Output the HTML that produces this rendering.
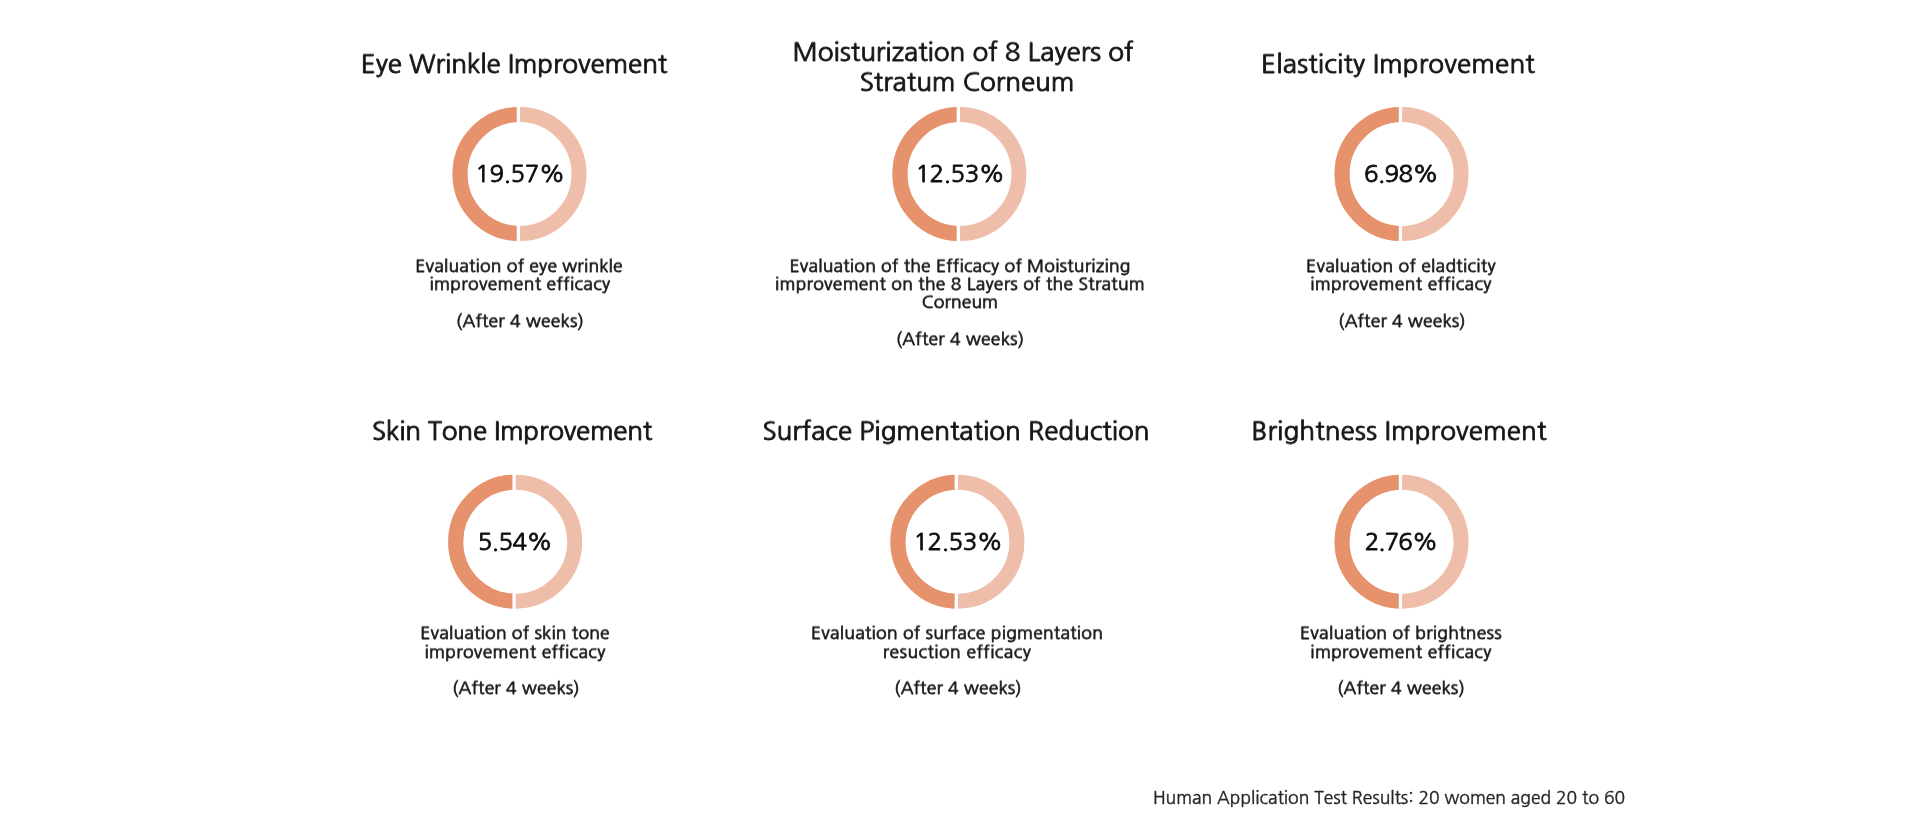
<!DOCTYPE html>
<html lang="en"><head><meta charset="utf-8"><title>Human Application Test Results</title>
<style>
html,body{margin:0;padding:0;background:#fff;}
body{width:1920px;height:826px;overflow:hidden;position:relative;font-family:NanumGothic, 'Liberation Sans', sans-serif;color:#1a1a1a;}
.t{position:absolute;width:1000px;text-align:center;white-space:nowrap;will-change:transform;}
.d{position:absolute;display:block;}
.u{position:relative;top:-0.043em;}
.title{font-size:26px;line-height:26px;color:#161616;-webkit-text-stroke:0.9px #161616;transform:scaleY(0.93);transform-origin:50% 21.94px;}
.pct{font-size:24px;line-height:24px;color:#0e0e0e;-webkit-text-stroke:0.85px #0e0e0e;}
.desc{font-size:17.5px;line-height:17.5px;color:#1a1a1a;-webkit-text-stroke:0.75px #1a1a1a;transform:scaleY(0.96);transform-origin:50% 14.77px;}
.foot{font-size:17.5px;line-height:17.5px;color:#262626;-webkit-text-stroke:0.4px #262626;}
</style></head>
<body>
<svg class="d" style="left:449px;top:104px" width="140" height="140" viewBox="0 0 140 140"><defs><clipPath id="c0"><rect x="0" y="0" width="69.40" height="140"/></clipPath></defs><circle cx="70.5" cy="70.0" r="59.5" fill="none" stroke="#EFBEAA" stroke-width="15.0"/><circle cx="70.5" cy="70.0" r="59.5" fill="none" stroke="#E6926C" stroke-width="15.0" clip-path="url(#c0)"/><rect x="67.75" y="0" width="3.3" height="140" fill="#fff"/></svg>
<svg class="d" style="left:889px;top:104px" width="140" height="140" viewBox="0 0 140 140"><defs><clipPath id="c1"><rect x="0" y="0" width="69.35" height="140"/></clipPath></defs><circle cx="70.45" cy="70.0" r="59.5" fill="none" stroke="#EFBEAA" stroke-width="15.0"/><circle cx="70.45" cy="70.0" r="59.5" fill="none" stroke="#E6926C" stroke-width="15.0" clip-path="url(#c1)"/><rect x="67.70" y="0" width="3.3" height="140" fill="#fff"/></svg>
<svg class="d" style="left:1331px;top:104px" width="140" height="140" viewBox="0 0 140 140"><defs><clipPath id="c2"><rect x="0" y="0" width="69.45" height="140"/></clipPath></defs><circle cx="70.55" cy="70.0" r="59.5" fill="none" stroke="#EFBEAA" stroke-width="15.0"/><circle cx="70.55" cy="70.0" r="59.5" fill="none" stroke="#E6926C" stroke-width="15.0" clip-path="url(#c2)"/><rect x="67.80" y="0" width="3.3" height="140" fill="#fff"/></svg>
<svg class="d" style="left:445px;top:471px" width="140" height="140" viewBox="0 0 140 140"><defs><clipPath id="c3"><rect x="0" y="0" width="69.10" height="140"/></clipPath></defs><circle cx="70.2" cy="70.65" r="59.5" fill="none" stroke="#EFBEAA" stroke-width="15.0"/><circle cx="70.2" cy="70.65" r="59.5" fill="none" stroke="#E6926C" stroke-width="15.0" clip-path="url(#c3)"/><rect x="67.45" y="0" width="3.3" height="140" fill="#fff"/></svg>
<svg class="d" style="left:887px;top:471px" width="140" height="140" viewBox="0 0 140 140"><defs><clipPath id="c4"><rect x="0" y="0" width="69.30" height="140"/></clipPath></defs><circle cx="70.4" cy="70.65" r="59.5" fill="none" stroke="#EFBEAA" stroke-width="15.0"/><circle cx="70.4" cy="70.65" r="59.5" fill="none" stroke="#E6926C" stroke-width="15.0" clip-path="url(#c4)"/><rect x="67.65" y="0" width="3.3" height="140" fill="#fff"/></svg>
<svg class="d" style="left:1331px;top:471px" width="140" height="140" viewBox="0 0 140 140"><defs><clipPath id="c5"><rect x="0" y="0" width="69.45" height="140"/></clipPath></defs><circle cx="70.55" cy="70.65" r="59.5" fill="none" stroke="#EFBEAA" stroke-width="15.0"/><circle cx="70.55" cy="70.65" r="59.5" fill="none" stroke="#E6926C" stroke-width="15.0" clip-path="url(#c5)"/><rect x="67.80" y="0" width="3.3" height="140" fill="#fff"/></svg>
<div class="t title" id="l0" style="left:14.35px;top:50.66px;letter-spacing:-0.099px">Eye Wr<span class="u">i</span>nkle <span class="u">I</span>mprovement</div>
<div class="t title" id="l1" style="left:462.83px;top:38.56px;letter-spacing:-0.042px">Mo<span class="u">i</span>stur<span class="u">i</span>zat<span class="u">i</span>on of 8 Layers of</div>
<div class="t title" id="l2" style="left:466.73px;top:68.76px;letter-spacing:-0.045px">Stratum Corneum</div>
<div class="t title" id="l3" style="left:898.39px;top:50.76px;letter-spacing:0.149px">Elast<span class="u">i</span>c<span class="u">i</span>ty <span class="u">I</span>mprovement</div>
<div class="t title" id="l4" style="left:11.99px;top:418.36px;letter-spacing:-0.220px">Sk<span class="u">i</span>n Tone <span class="u">I</span>mprovement</div>
<div class="t title" id="l5" style="left:456.45px;top:418.36px;letter-spacing:-0.010px">Surface P<span class="u">i</span>gmentat<span class="u">i</span>on Reduct<span class="u">i</span>on</div>
<div class="t title" id="l6" style="left:898.86px;top:418.36px;letter-spacing:0.118px">Br<span class="u">i</span>ghtness <span class="u">I</span>mprovement</div>
<div class="t pct" id="l7" style="left:19.92px;top:160.94px;letter-spacing:-0.360px">19.57%</div>
<div class="t pct" id="l8" style="left:459.65px;top:160.94px;letter-spacing:-0.400px">12.53%</div>
<div class="t pct" id="l9" style="left:901.15px;top:160.94px;letter-spacing:-0.600px">6.98%</div>
<div class="t pct" id="l10" style="left:15.33px;top:528.59px;letter-spacing:-0.550px">5.54%</div>
<div class="t pct" id="l11" style="left:457.98px;top:528.59px;letter-spacing:-0.440px">12.53%</div>
<div class="t pct" id="l12" style="left:901.35px;top:528.59px;letter-spacing:-0.900px">2.76%</div>
<div class="t desc" id="l13" style="left:19.36px;top:257.83px;letter-spacing:0.221px">Evaluat<span class="u">i</span>on of eye wr<span class="u">i</span>nkle</div>
<div class="t desc" id="l14" style="left:19.67px;top:276.03px;letter-spacing:0.347px"><span class="u">i</span>mprovement eff<span class="u">i</span>cacy</div>
<div class="t desc" id="l15" style="left:19.56px;top:312.53px;letter-spacing:0.229px">(After 4 weeks)</div>
<div class="t desc" id="l16" style="left:459.71px;top:257.83px;letter-spacing:0.229px">Evaluat<span class="u">i</span>on of the Eff<span class="u">i</span>cacy of Mo<span class="u">i</span>stur<span class="u">i</span>z<span class="u">i</span>ng</div>
<div class="t desc" id="l17" style="left:459.54px;top:276.03px;letter-spacing:0.283px"><span class="u">i</span>mprovement on the 8 Layers of the Stratum</div>
<div class="t desc" id="l18" style="left:459.97px;top:294.33px;letter-spacing:0.132px">Corneum</div>
<div class="t desc" id="l19" style="left:459.72px;top:330.93px;letter-spacing:0.245px">(After 4 weeks)</div>
<div class="t desc" id="l20" style="left:901.20px;top:257.83px;letter-spacing:0.296px">Evaluat<span class="u">i</span>on of eladt<span class="u">i</span>c<span class="u">i</span>ty</div>
<div class="t desc" id="l21" style="left:901.44px;top:276.03px;letter-spacing:0.380px"><span class="u">i</span>mprovement eff<span class="u">i</span>cacy</div>
<div class="t desc" id="l22" style="left:901.85px;top:312.53px;letter-spacing:0.198px">(After 4 weeks)</div>
<div class="t desc" id="l23" style="left:15.11px;top:625.48px;letter-spacing:0.227px">Evaluat<span class="u">i</span>on of sk<span class="u">i</span>n tone</div>
<div class="t desc" id="l24" style="left:15.08px;top:643.68px;letter-spacing:0.358px"><span class="u">i</span>mprovement eff<span class="u">i</span>cacy</div>
<div class="t desc" id="l25" style="left:15.80px;top:680.18px;letter-spacing:0.201px">(After 4 weeks)</div>
<div class="t desc" id="l26" style="left:457.28px;top:625.48px;letter-spacing:0.256px">Evaluat<span class="u">i</span>on of surface p<span class="u">i</span>gmentat<span class="u">i</span>on</div>
<div class="t desc" id="l27" style="left:456.74px;top:643.68px;letter-spacing:0.471px">resuct<span class="u">i</span>on eff<span class="u">i</span>cacy</div>
<div class="t desc" id="l28" style="left:457.85px;top:680.18px;letter-spacing:0.198px">(After 4 weeks)</div>
<div class="t desc" id="l29" style="left:901.45px;top:625.48px;letter-spacing:0.304px">Evaluat<span class="u">i</span>on of br<span class="u">i</span>ghtness</div>
<div class="t desc" id="l30" style="left:901.13px;top:643.68px;letter-spacing:0.367px"><span class="u">i</span>mprovement eff<span class="u">i</span>cacy</div>
<div class="t desc" id="l31" style="left:901.36px;top:680.18px;letter-spacing:0.212px">(After 4 weeks)</div>
<div class="t foot" id="l32" style="left:889.20px;top:789.83px;letter-spacing:-0.008px">Human Appl<span class="u">i</span>cat<span class="u">i</span>on Test Results: 20 women aged 20 to 60</div>
</body></html>
